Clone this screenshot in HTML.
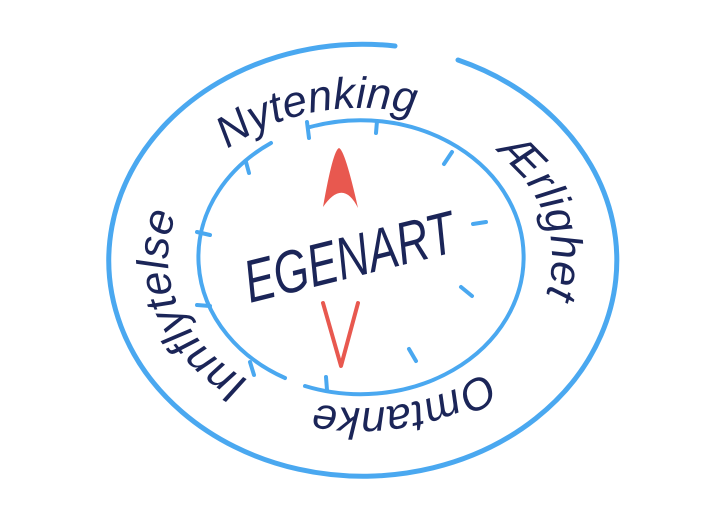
<!DOCTYPE html>
<html><head><style>
html,body{margin:0;padding:0;background:#fff;}
svg{display:block;}
</style></head><body>
<svg width="720" height="513" viewBox="0 0 720 513" xmlns="http://www.w3.org/2000/svg">
<defs>
<path id="tp" d="M 360,408 A 192 150 0 1 1 360,108 A 192 150 0 1 1 360,408 A 192 150 0 1 1 360,108 A 192 150 0 1 1 360,408"/>
</defs>
<g fill="none" stroke="#4aa8f0" stroke-linecap="round">
<path stroke-width="5" d="M 458,60 A 254 216 0 1 1 395,46"/>
<path stroke-width="4" d="M 310,127 A 163 137 0 1 1 305,386"/>
<path stroke-width="4" d="M 285,378 A 163 137 0 0 1 271,143"/>
<g stroke-width="4">
<line x1="307" y1="122" x2="309" y2="138"/>
<line x1="377" y1="121" x2="376" y2="133"/>
<line x1="452" y1="152" x2="444" y2="164"/>
<line x1="486" y1="222" x2="473" y2="224"/>
<line x1="472" y1="296" x2="461" y2="287"/>
<line x1="409" y1="349" x2="416" y2="361"/>
<line x1="326" y1="377" x2="327" y2="390"/>
<line x1="250" y1="362" x2="254" y2="375"/>
<line x1="197" y1="305" x2="210" y2="306"/>
<line x1="197" y1="232" x2="210" y2="235"/>
<line x1="246" y1="162" x2="249" y2="173"/>
</g>
</g>
<path fill="#e8584f" d="M 339,148 Q 345,150 358,208 Q 343,178 323,207 Q 333,150 339,148 Z"/>
<path fill="none" stroke="#e8584f" stroke-width="4" stroke-linecap="round" stroke-linejoin="round" d="M 323,303 L 341,366 L 358,303"/>
<text x="250" y="303" transform="rotate(-14 250 303)" textLength="215" lengthAdjust="spacingAndGlyphs" font-family="Liberation Sans, sans-serif" font-style="italic" font-size="60" fill="#1b2558">EGENART</text>
<g font-family="Liberation Sans, sans-serif" font-style="italic" font-size="44" fill="#1b2558" text-anchor="middle">
<text><textPath href="#tp" startOffset="10%">Innflytelse</textPath></text>
<text><textPath href="#tp" startOffset="23%">Nytenking</textPath></text>
<text><textPath href="#tp" startOffset="35.5%">Ærlighet</textPath></text>
<text><textPath href="#tp" startOffset="48%">Omtanke</textPath></text>
</g>
</svg>
</body></html>
